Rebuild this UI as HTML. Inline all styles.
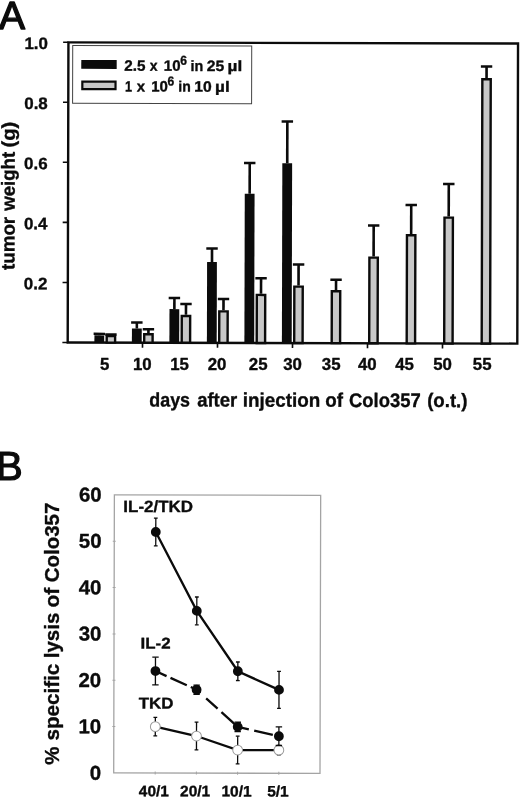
<!DOCTYPE html>
<html><head><meta charset="utf-8"><title>Figure</title>
<style>html,body{margin:0;padding:0;background:#fff;}body{width:520px;height:803px;overflow:hidden;}svg{display:block;filter:blur(0.4px);}text{font-family:"Liberation Sans",sans-serif;fill:#0b0b0b;stroke:#0b0b0b;stroke-width:0.35px;stroke-linejoin:round;}</style>
</head><body>
<svg width="520" height="803" viewBox="0 0 520 803">
<rect x="0" y="0" width="520" height="803" fill="#ffffff"/>
<text x="-0.9" y="29.2" font-size="39" style="stroke-width:1.4px">A</text>
<text x="-4.1" y="480.3" font-size="40" style="stroke-width:1.2px">B</text>
<g transform="rotate(0.14 67.7 342.5)">
<rect x="67.7" y="42.4" width="449.60" height="300.10" fill="none" stroke="#0b0b0b" stroke-width="2.4"/>
<line x1="62.4" y1="342.50" x2="67.7" y2="342.50" stroke="#0b0b0b" stroke-width="1.6"/>
<line x1="62.4" y1="282.44" x2="67.7" y2="282.44" stroke="#0b0b0b" stroke-width="1.6"/>
<line x1="62.4" y1="222.38" x2="67.7" y2="222.38" stroke="#0b0b0b" stroke-width="1.6"/>
<line x1="62.4" y1="162.32" x2="67.7" y2="162.32" stroke="#0b0b0b" stroke-width="1.6"/>
<line x1="62.4" y1="102.26" x2="67.7" y2="102.26" stroke="#0b0b0b" stroke-width="1.6"/>
<line x1="62.4" y1="42.20" x2="67.7" y2="42.20" stroke="#0b0b0b" stroke-width="1.6"/>
<line x1="142.50" y1="342.5" x2="142.50" y2="347.5" stroke="#0b0b0b" stroke-width="1.6"/>
<line x1="217.50" y1="342.5" x2="217.50" y2="347.5" stroke="#0b0b0b" stroke-width="1.6"/>
<line x1="292.50" y1="342.5" x2="292.50" y2="347.5" stroke="#0b0b0b" stroke-width="1.6"/>
<line x1="367.50" y1="342.5" x2="367.50" y2="347.5" stroke="#0b0b0b" stroke-width="1.6"/>
<line x1="442.50" y1="342.5" x2="442.50" y2="347.5" stroke="#0b0b0b" stroke-width="1.6"/>
<rect x="94.40" y="335.29" width="9.80" height="7.21" fill="#0b0b0b"/>
<line x1="99.30" y1="335.29" x2="99.30" y2="333.79" stroke="#0b0b0b" stroke-width="2.6"/>
<line x1="93.60" y1="333.79" x2="105.00" y2="333.79" stroke="#0b0b0b" stroke-width="2.5"/>
<rect x="106.70" y="335.89" width="8.40" height="6.61" fill="#c8c8c8" stroke="#0b0b0b" stroke-width="2.4"/>
<line x1="110.90" y1="334.69" x2="110.90" y2="334.45" stroke="#0b0b0b" stroke-width="2.6"/>
<line x1="105.20" y1="334.45" x2="116.60" y2="334.45" stroke="#0b0b0b" stroke-width="2.5"/>
<rect x="131.90" y="328.39" width="9.80" height="14.11" fill="#0b0b0b"/>
<line x1="136.80" y1="328.39" x2="136.80" y2="322.38" stroke="#0b0b0b" stroke-width="2.6"/>
<line x1="131.10" y1="322.38" x2="142.50" y2="322.38" stroke="#0b0b0b" stroke-width="2.5"/>
<rect x="144.20" y="334.09" width="8.40" height="8.41" fill="#c8c8c8" stroke="#0b0b0b" stroke-width="2.4"/>
<line x1="148.40" y1="332.89" x2="148.40" y2="329.05" stroke="#0b0b0b" stroke-width="2.6"/>
<line x1="142.70" y1="329.05" x2="154.10" y2="329.05" stroke="#0b0b0b" stroke-width="2.5"/>
<rect x="169.40" y="308.87" width="9.80" height="33.63" fill="#0b0b0b"/>
<line x1="174.30" y1="308.87" x2="174.30" y2="297.76" stroke="#0b0b0b" stroke-width="2.6"/>
<line x1="168.60" y1="297.76" x2="180.00" y2="297.76" stroke="#0b0b0b" stroke-width="2.5"/>
<rect x="181.70" y="315.77" width="8.40" height="26.73" fill="#c8c8c8" stroke="#0b0b0b" stroke-width="2.4"/>
<line x1="185.90" y1="314.57" x2="185.90" y2="303.82" stroke="#0b0b0b" stroke-width="2.6"/>
<line x1="180.20" y1="303.82" x2="191.60" y2="303.82" stroke="#0b0b0b" stroke-width="2.5"/>
<rect x="206.90" y="261.72" width="9.80" height="80.78" fill="#0b0b0b"/>
<line x1="211.80" y1="261.72" x2="211.80" y2="248.21" stroke="#0b0b0b" stroke-width="2.6"/>
<line x1="206.10" y1="248.21" x2="217.50" y2="248.21" stroke="#0b0b0b" stroke-width="2.5"/>
<rect x="219.20" y="310.97" width="8.40" height="31.53" fill="#c8c8c8" stroke="#0b0b0b" stroke-width="2.4"/>
<line x1="223.40" y1="309.77" x2="223.40" y2="298.72" stroke="#0b0b0b" stroke-width="2.6"/>
<line x1="217.70" y1="298.72" x2="229.10" y2="298.72" stroke="#0b0b0b" stroke-width="2.5"/>
<rect x="244.40" y="193.25" width="9.80" height="149.25" fill="#0b0b0b"/>
<line x1="249.30" y1="193.25" x2="249.30" y2="162.62" stroke="#0b0b0b" stroke-width="2.6"/>
<line x1="243.60" y1="162.62" x2="255.00" y2="162.62" stroke="#0b0b0b" stroke-width="2.5"/>
<rect x="256.70" y="294.45" width="8.40" height="48.05" fill="#c8c8c8" stroke="#0b0b0b" stroke-width="2.4"/>
<line x1="260.90" y1="293.25" x2="260.90" y2="277.70" stroke="#0b0b0b" stroke-width="2.6"/>
<line x1="255.20" y1="277.70" x2="266.60" y2="277.70" stroke="#0b0b0b" stroke-width="2.5"/>
<rect x="281.90" y="162.62" width="9.80" height="179.88" fill="#0b0b0b"/>
<line x1="286.80" y1="162.62" x2="286.80" y2="120.88" stroke="#0b0b0b" stroke-width="2.6"/>
<line x1="281.10" y1="120.88" x2="292.50" y2="120.88" stroke="#0b0b0b" stroke-width="2.5"/>
<rect x="294.20" y="286.04" width="8.40" height="56.46" fill="#c8c8c8" stroke="#0b0b0b" stroke-width="2.4"/>
<line x1="298.40" y1="284.84" x2="298.40" y2="263.88" stroke="#0b0b0b" stroke-width="2.6"/>
<line x1="292.70" y1="263.88" x2="304.10" y2="263.88" stroke="#0b0b0b" stroke-width="2.5"/>
<rect x="331.70" y="290.55" width="8.40" height="51.95" fill="#c8c8c8" stroke="#0b0b0b" stroke-width="2.4"/>
<line x1="335.90" y1="289.35" x2="335.90" y2="279.20" stroke="#0b0b0b" stroke-width="2.6"/>
<line x1="330.20" y1="279.20" x2="341.60" y2="279.20" stroke="#0b0b0b" stroke-width="2.5"/>
<rect x="369.20" y="256.91" width="8.40" height="85.59" fill="#c8c8c8" stroke="#0b0b0b" stroke-width="2.4"/>
<line x1="373.40" y1="255.71" x2="373.40" y2="224.84" stroke="#0b0b0b" stroke-width="2.6"/>
<line x1="367.70" y1="224.84" x2="379.10" y2="224.84" stroke="#0b0b0b" stroke-width="2.5"/>
<rect x="406.70" y="234.39" width="8.40" height="108.11" fill="#c8c8c8" stroke="#0b0b0b" stroke-width="2.4"/>
<line x1="410.90" y1="233.19" x2="410.90" y2="204.12" stroke="#0b0b0b" stroke-width="2.6"/>
<line x1="405.20" y1="204.12" x2="416.60" y2="204.12" stroke="#0b0b0b" stroke-width="2.5"/>
<rect x="444.20" y="216.67" width="8.40" height="125.83" fill="#c8c8c8" stroke="#0b0b0b" stroke-width="2.4"/>
<line x1="448.40" y1="215.47" x2="448.40" y2="183.10" stroke="#0b0b0b" stroke-width="2.6"/>
<line x1="442.70" y1="183.10" x2="454.10" y2="183.10" stroke="#0b0b0b" stroke-width="2.5"/>
<rect x="481.70" y="78.23" width="8.40" height="264.27" fill="#c8c8c8" stroke="#0b0b0b" stroke-width="2.4"/>
<line x1="485.90" y1="77.03" x2="485.90" y2="65.38" stroke="#0b0b0b" stroke-width="2.6"/>
<line x1="480.20" y1="65.38" x2="491.60" y2="65.38" stroke="#0b0b0b" stroke-width="2.5"/>
<rect x="72" y="45.5" width="179" height="57.8" fill="#ffffff" stroke="#444" stroke-width="1"/>
<rect x="80.6" y="60.0" width="35.4" height="8.8" fill="#0b0b0b"/>
<rect x="81.7" y="81.5" width="33.2" height="7.6" fill="#c8c8c8" stroke="#0b0b0b" stroke-width="2.2"/>
<text x="123.65" y="70.60" font-size="15.0" font-weight="bold" textLength="21.20" lengthAdjust="spacingAndGlyphs">2.5</text>
<text x="149.10" y="70.60" font-size="15.0" font-weight="bold" textLength="7.80" lengthAdjust="spacingAndGlyphs">x</text>
<text x="163.20" y="70.60" font-size="15.0" font-weight="bold" textLength="16.65" lengthAdjust="spacingAndGlyphs">10</text>
<text x="179.48" y="64.60" font-size="13" font-weight="bold" textLength="6.74" lengthAdjust="spacingAndGlyphs">6</text>
<text x="189.95" y="70.60" font-size="15.0" font-weight="bold" textLength="12.70" lengthAdjust="spacingAndGlyphs">in</text>
<text x="206.15" y="70.60" font-size="15.0" font-weight="bold" textLength="17.45" lengthAdjust="spacingAndGlyphs">25</text>
<text x="226.95" y="70.60" font-size="15.0" font-weight="bold" textLength="14.60" lengthAdjust="spacingAndGlyphs">µl</text>
<text x="124.45" y="91.30" font-size="15.0" font-weight="bold" textLength="7.05" lengthAdjust="spacingAndGlyphs">1</text>
<text x="136.10" y="91.30" font-size="15.0" font-weight="bold" textLength="8.30" lengthAdjust="spacingAndGlyphs">x</text>
<text x="150.70" y="91.30" font-size="15.0" font-weight="bold" textLength="16.65" lengthAdjust="spacingAndGlyphs">10</text>
<text x="166.98" y="85.30" font-size="13" font-weight="bold" textLength="6.74" lengthAdjust="spacingAndGlyphs">6</text>
<text x="177.70" y="91.30" font-size="15.0" font-weight="bold" textLength="12.45" lengthAdjust="spacingAndGlyphs">in</text>
<text x="193.70" y="91.30" font-size="15.0" font-weight="bold" textLength="17.40" lengthAdjust="spacingAndGlyphs">10</text>
<text x="214.45" y="91.30" font-size="15.0" font-weight="bold" textLength="14.60" lengthAdjust="spacingAndGlyphs">µl</text>
<text transform="translate(47.2 289.34) scale(1.02 1)" font-size="16.6" font-weight="bold" text-anchor="end">0.2</text>
<text transform="translate(47.2 229.28) scale(1.02 1)" font-size="16.6" font-weight="bold" text-anchor="end">0.4</text>
<text transform="translate(47.2 169.22) scale(1.02 1)" font-size="16.6" font-weight="bold" text-anchor="end">0.6</text>
<text transform="translate(47.2 109.16) scale(1.02 1)" font-size="16.6" font-weight="bold" text-anchor="end">0.8</text>
<text transform="translate(47.2 49.10) scale(1.02 1)" font-size="16.6" font-weight="bold" text-anchor="end">1.0</text>
<text transform="translate(14.40 270.08) rotate(-90)" font-size="19.0" font-weight="bold" textLength="53.06" lengthAdjust="spacingAndGlyphs">tumor</text>
<text transform="translate(14.40 210.90) rotate(-90)" font-size="19.0" font-weight="bold" textLength="58.88" lengthAdjust="spacingAndGlyphs">weight</text>
<text transform="translate(14.40 147.54) rotate(-90)" font-size="19.0" font-weight="bold" textLength="25.68" lengthAdjust="spacingAndGlyphs">(g)</text>
<text x="149.52" y="406.20" font-size="19.6" font-weight="bold" textLength="40.67" lengthAdjust="spacingAndGlyphs">days</text>
<text x="197.32" y="406.20" font-size="19.6" font-weight="bold" textLength="40.08" lengthAdjust="spacingAndGlyphs">after</text>
<text x="243.03" y="406.20" font-size="19.6" font-weight="bold" textLength="77.35" lengthAdjust="spacingAndGlyphs">injection</text>
<text x="325.42" y="406.20" font-size="19.6" font-weight="bold" textLength="17.68" lengthAdjust="spacingAndGlyphs">of</text>
<text x="349.22" y="406.20" font-size="19.6" font-weight="bold" textLength="71.57" lengthAdjust="spacingAndGlyphs">Colo357</text>
<text x="427.32" y="406.20" font-size="19.6" font-weight="bold" textLength="40.35" lengthAdjust="spacingAndGlyphs">(o.t.)</text>
</g>
<text transform="translate(104.6 370.1) scale(1.04 1)" font-size="16.2" font-weight="bold" text-anchor="middle">5</text>
<text transform="translate(142.3 370.1) scale(1.04 1)" font-size="16.2" font-weight="bold" text-anchor="middle">10</text>
<text transform="translate(179.6 370.1) scale(1.04 1)" font-size="16.2" font-weight="bold" text-anchor="middle">15</text>
<text transform="translate(217 370.1) scale(1.04 1)" font-size="16.2" font-weight="bold" text-anchor="middle">20</text>
<text transform="translate(258.2 370.1) scale(1.04 1)" font-size="16.2" font-weight="bold" text-anchor="middle">25</text>
<text transform="translate(292.5 370.1) scale(1.04 1)" font-size="16.2" font-weight="bold" text-anchor="middle">30</text>
<text transform="translate(331.2 370.1) scale(1.04 1)" font-size="16.2" font-weight="bold" text-anchor="middle">35</text>
<text transform="translate(367.3 370.1) scale(1.04 1)" font-size="16.2" font-weight="bold" text-anchor="middle">40</text>
<text transform="translate(404.5 370.1) scale(1.04 1)" font-size="16.2" font-weight="bold" text-anchor="middle">45</text>
<text transform="translate(442.5 370.1) scale(1.04 1)" font-size="16.2" font-weight="bold" text-anchor="middle">50</text>
<text transform="translate(482.2 370.1) scale(1.04 1)" font-size="16.2" font-weight="bold" text-anchor="middle">55</text>
<g transform="rotate(0.14 113.7 772.9)">
<rect x="113.7" y="494.85" width="206.30" height="278.05" fill="none" stroke="#a4a4a4" stroke-width="1.3"/>
<line x1="112.2" y1="726.56" x2="115.2" y2="726.56" stroke="#a4a4a4" stroke-width="1"/>
<line x1="112.2" y1="680.22" x2="115.2" y2="680.22" stroke="#a4a4a4" stroke-width="1"/>
<line x1="112.2" y1="633.88" x2="115.2" y2="633.88" stroke="#a4a4a4" stroke-width="1"/>
<line x1="112.2" y1="587.53" x2="115.2" y2="587.53" stroke="#a4a4a4" stroke-width="1"/>
<line x1="112.2" y1="541.19" x2="115.2" y2="541.19" stroke="#a4a4a4" stroke-width="1"/>
<line x1="155.2" y1="771.4" x2="155.2" y2="774.4" stroke="#a4a4a4" stroke-width="1"/>
<line x1="196.4" y1="771.4" x2="196.4" y2="774.4" stroke="#a4a4a4" stroke-width="1"/>
<line x1="237.60000000000002" y1="771.4" x2="237.60000000000002" y2="774.4" stroke="#a4a4a4" stroke-width="1"/>
<line x1="278.8" y1="771.4" x2="278.8" y2="774.4" stroke="#a4a4a4" stroke-width="1"/>
<polyline points="155.2,726.56 196.4,735.83 237.60000000000002,749.73 278.8,749.73" fill="none" stroke="#0b0b0b" stroke-width="2.3"/>
<line x1="155.2" y1="717.29" x2="155.2" y2="735.83" stroke="#0b0b0b" stroke-width="1.3"/>
<line x1="153.29999999999998" y1="717.29" x2="157.1" y2="717.29" stroke="#0b0b0b" stroke-width="1.3"/>
<line x1="153.29999999999998" y1="735.83" x2="157.1" y2="735.83" stroke="#0b0b0b" stroke-width="1.3"/>
<line x1="196.4" y1="721.92" x2="196.4" y2="749.73" stroke="#0b0b0b" stroke-width="1.3"/>
<line x1="194.5" y1="721.92" x2="198.3" y2="721.92" stroke="#0b0b0b" stroke-width="1.3"/>
<line x1="194.5" y1="749.73" x2="198.3" y2="749.73" stroke="#0b0b0b" stroke-width="1.3"/>
<line x1="237.60000000000002" y1="735.83" x2="237.60000000000002" y2="763.63" stroke="#0b0b0b" stroke-width="1.3"/>
<line x1="235.70000000000002" y1="735.83" x2="239.50000000000003" y2="735.83" stroke="#0b0b0b" stroke-width="1.3"/>
<line x1="235.70000000000002" y1="763.63" x2="239.50000000000003" y2="763.63" stroke="#0b0b0b" stroke-width="1.3"/>
<line x1="278.8" y1="745.10" x2="278.8" y2="754.36" stroke="#0b0b0b" stroke-width="1.3"/>
<line x1="276.90000000000003" y1="745.10" x2="280.7" y2="745.10" stroke="#0b0b0b" stroke-width="1.3"/>
<line x1="276.90000000000003" y1="754.36" x2="280.7" y2="754.36" stroke="#0b0b0b" stroke-width="1.3"/>
<circle cx="155.2" cy="726.56" r="4.9" fill="#fff" stroke="#9a9a9a" stroke-width="1"/>
<circle cx="196.4" cy="735.83" r="4.9" fill="#fff" stroke="#9a9a9a" stroke-width="1"/>
<circle cx="237.60000000000002" cy="749.73" r="4.9" fill="#fff" stroke="#9a9a9a" stroke-width="1"/>
<circle cx="278.8" cy="749.73" r="4.9" fill="#fff" stroke="#9a9a9a" stroke-width="1"/>
<line x1="155.2" y1="670.95" x2="196.4" y2="689.49" stroke="#0b0b0b" stroke-width="2.3" stroke-dasharray="12.2 4.3 17.9 4.4 30"/>
<line x1="196.4" y1="689.49" x2="237.60000000000002" y2="726.56" stroke="#0b0b0b" stroke-width="2.3" stroke-dasharray="5 7.9 15.4 5.2 40"/>
<line x1="237.60000000000002" y1="726.56" x2="278.8" y2="735.83" stroke="#0b0b0b" stroke-width="2.3" stroke-dasharray="11.4 5.5 19.1 3 30"/>
<line x1="155.2" y1="657.05" x2="155.2" y2="684.85" stroke="#0b0b0b" stroke-width="1.3"/>
<line x1="152.0" y1="657.05" x2="158.39999999999998" y2="657.05" stroke="#0b0b0b" stroke-width="1.3"/>
<line x1="152.0" y1="684.85" x2="158.39999999999998" y2="684.85" stroke="#0b0b0b" stroke-width="1.3"/>
<line x1="196.4" y1="684.85" x2="196.4" y2="694.12" stroke="#0b0b0b" stroke-width="1.3"/>
<line x1="193.20000000000002" y1="684.85" x2="199.6" y2="684.85" stroke="#0b0b0b" stroke-width="1.3"/>
<line x1="193.20000000000002" y1="694.12" x2="199.6" y2="694.12" stroke="#0b0b0b" stroke-width="1.3"/>
<line x1="237.60000000000002" y1="721.92" x2="237.60000000000002" y2="731.19" stroke="#0b0b0b" stroke-width="1.3"/>
<line x1="234.40000000000003" y1="721.92" x2="240.8" y2="721.92" stroke="#0b0b0b" stroke-width="1.3"/>
<line x1="234.40000000000003" y1="731.19" x2="240.8" y2="731.19" stroke="#0b0b0b" stroke-width="1.3"/>
<line x1="278.8" y1="726.56" x2="278.8" y2="745.10" stroke="#0b0b0b" stroke-width="1.3"/>
<line x1="275.6" y1="726.56" x2="282.0" y2="726.56" stroke="#0b0b0b" stroke-width="1.3"/>
<line x1="275.6" y1="745.10" x2="282.0" y2="745.10" stroke="#0b0b0b" stroke-width="1.3"/>
<circle cx="155.2" cy="670.95" r="4.9" fill="#0b0b0b"/>
<circle cx="196.4" cy="689.49" r="4.9" fill="#0b0b0b"/>
<circle cx="237.60000000000002" cy="726.56" r="4.9" fill="#0b0b0b"/>
<circle cx="278.8" cy="735.83" r="4.9" fill="#0b0b0b"/>
<polyline points="155.2,531.92 196.4,610.70 237.60000000000002,670.95 278.8,689.49" fill="none" stroke="#0b0b0b" stroke-width="2.3"/>
<line x1="155.2" y1="518.02" x2="155.2" y2="545.83" stroke="#0b0b0b" stroke-width="1.3"/>
<line x1="153.29999999999998" y1="518.02" x2="157.1" y2="518.02" stroke="#0b0b0b" stroke-width="1.3"/>
<line x1="153.29999999999998" y1="545.83" x2="157.1" y2="545.83" stroke="#0b0b0b" stroke-width="1.3"/>
<line x1="196.4" y1="596.80" x2="196.4" y2="624.61" stroke="#0b0b0b" stroke-width="1.3"/>
<line x1="194.5" y1="596.80" x2="198.3" y2="596.80" stroke="#0b0b0b" stroke-width="1.3"/>
<line x1="194.5" y1="624.61" x2="198.3" y2="624.61" stroke="#0b0b0b" stroke-width="1.3"/>
<line x1="237.60000000000002" y1="661.68" x2="237.60000000000002" y2="680.22" stroke="#0b0b0b" stroke-width="1.3"/>
<line x1="235.70000000000002" y1="661.68" x2="239.50000000000003" y2="661.68" stroke="#0b0b0b" stroke-width="1.3"/>
<line x1="235.70000000000002" y1="680.22" x2="239.50000000000003" y2="680.22" stroke="#0b0b0b" stroke-width="1.3"/>
<line x1="278.8" y1="670.95" x2="278.8" y2="708.02" stroke="#0b0b0b" stroke-width="1.3"/>
<line x1="276.90000000000003" y1="670.95" x2="280.7" y2="670.95" stroke="#0b0b0b" stroke-width="1.3"/>
<line x1="276.90000000000003" y1="708.02" x2="280.7" y2="708.02" stroke="#0b0b0b" stroke-width="1.3"/>
<circle cx="155.2" cy="531.92" r="4.9" fill="#0b0b0b"/>
<circle cx="196.4" cy="610.70" r="4.9" fill="#0b0b0b"/>
<circle cx="237.60000000000002" cy="670.95" r="4.9" fill="#0b0b0b"/>
<circle cx="278.8" cy="689.49" r="4.9" fill="#0b0b0b"/>
<text transform="translate(122.7 511.9) scale(1.04 1)" font-size="16.3" font-weight="bold" text-anchor="start">IL-2/TKD</text>
<text transform="translate(140.2 648.5) scale(1.09 1)" font-size="15.5" font-weight="bold" text-anchor="start">IL-2</text>
<text transform="translate(138.6 708.4) scale(1.09 1)" font-size="15.5" font-weight="bold" text-anchor="start">TKD</text>
<text transform="translate(101.0 779.8) scale(1.02 1)" font-size="20" font-weight="bold" text-anchor="end">0</text>
<text transform="translate(101.0 733.425) scale(1.02 1)" font-size="20" font-weight="bold" text-anchor="end">10</text>
<text transform="translate(101.0 687.05) scale(1.02 1)" font-size="20" font-weight="bold" text-anchor="end">20</text>
<text transform="translate(101.0 640.675) scale(1.02 1)" font-size="20" font-weight="bold" text-anchor="end">30</text>
<text transform="translate(101.0 594.3) scale(1.02 1)" font-size="20" font-weight="bold" text-anchor="end">40</text>
<text transform="translate(101.0 547.925) scale(1.02 1)" font-size="20" font-weight="bold" text-anchor="end">50</text>
<text transform="translate(101.0 501.55) scale(1.02 1)" font-size="20" font-weight="bold" text-anchor="end">60</text>
<text transform="translate(153.9 796.1) scale(1.02 1)" font-size="15.2" font-weight="bold" text-anchor="middle">40/1</text>
<text transform="translate(195.2 796.1) scale(1.02 1)" font-size="15.2" font-weight="bold" text-anchor="middle">20/1</text>
<text transform="translate(236.6 796.1) scale(1.02 1)" font-size="15.2" font-weight="bold" text-anchor="middle">10/1</text>
<text transform="translate(278.0 796.1) scale(1.02 1)" font-size="15.2" font-weight="bold" text-anchor="middle">5/1</text>
</g>
<text transform="translate(58.80 764.64) rotate(-90)" font-size="21.0" font-weight="bold" textLength="18.08" lengthAdjust="spacingAndGlyphs">%</text>
<text transform="translate(58.80 740.54) rotate(-90)" font-size="21.0" font-weight="bold" textLength="76.88" lengthAdjust="spacingAndGlyphs">specific</text>
<text transform="translate(58.80 658.27) rotate(-90)" font-size="21.0" font-weight="bold" textLength="45.71" lengthAdjust="spacingAndGlyphs">lysis</text>
<text transform="translate(58.80 607.44) rotate(-90)" font-size="21.0" font-weight="bold" textLength="19.64" lengthAdjust="spacingAndGlyphs">of</text>
<text transform="translate(58.80 582.14) rotate(-90)" font-size="21.0" font-weight="bold" textLength="79.48" lengthAdjust="spacingAndGlyphs">Colo357</text>
</svg></body></html>
